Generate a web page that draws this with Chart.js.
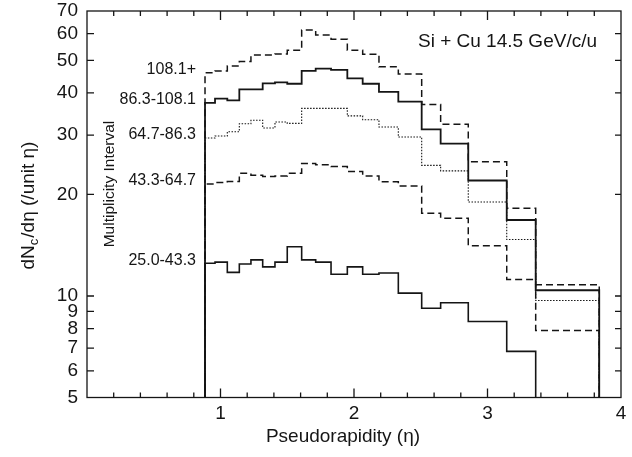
<!DOCTYPE html>
<html>
<head>
<meta charset="utf-8">
<script src="https://cdn.jsdelivr.net/npm/chart.js@4"></script>
<style>
  html, body { margin: 0; padding: 0; background: #fff; }
</style>
</head>
<body>
<canvas id="etaChart" width="632" height="457"></canvas>
<script>
// bin edges in pseudorapidity
var binEdges = [0.884, 0.959, 1.051, 1.141, 1.228, 1.316, 1.408, 1.500, 1.608, 1.713, 1.828,
                1.950, 2.065, 2.187, 2.332, 2.507, 2.649, 2.856, 3.144, 3.361, 3.837];

// dNc/deta per bin, one array per multiplicity interval
var mult108 = [45.9, 46.5, 48.1, 49.6, 51.8, 51.8, 52.2, 53.5, 61.5, 59.4, 57.7, 53.5, 52.1, 47.8, 45.5, 37.0, 32.3, 25.0, 18.2, 10.8];
var mult86  = [37.4, 38.5, 38.0, 41.0, 41.0, 42.7, 43.0, 42.6, 46.5, 47.2, 46.8, 44.2, 42.6, 40.3, 37.7, 31.2, 28.3, 22.0, 16.8, 10.4];
var mult64  = [29.4, 29.8, 30.7, 32.4, 33.2, 31.5, 32.8, 32.5, 36.0, 36.0, 36.0, 34.2, 33.3, 31.7, 29.6, 24.4, 23.5, 19.0, 14.7, 9.7];
var mult43  = [21.5, 21.7, 21.85, 23.1, 22.8, 22.6, 22.7, 23.1, 24.7, 24.5, 24.2, 23.4, 22.7, 21.8, 21.2, 17.6, 17.0, 14.1, 11.2, 7.9];
var mult25  = [12.5, 12.6, 11.75, 12.44, 12.8, 12.2, 12.6, 14.0, 12.8, 12.6, 11.6, 12.2, 11.6, 11.7, 10.2, 9.2, 9.55, 8.4, 6.85];

var seriesLabels = ['108.1+', '86.3-108.1', '64.7-86.3', '43.3-64.7', '25.0-43.3'];
var yTickValues = [5, 6, 7, 8, 9, 10, 20, 30, 40, 50, 60, 70];
var xTickValues = [1, 2, 3, 4];

var FONT = "'Liberation Sans', Arial, sans-serif";
var INK = '#151515';

// histogram outline: rises from below the axis, steps through bins, drops back
function histPoints(vals) {
  var pts = [{x: binEdges[0], y: 1}];
  for (var i = 0; i < vals.length; i++) pts.push({x: binEdges[i], y: vals[i]});
  var n = vals.length;
  pts.push({x: binEdges[n], y: vals[n - 1]});
  pts.push({x: binEdges[n], y: 1});
  return pts;
}

function ds(vals, width, dash) {
  return {
    data: histPoints(vals),
    stepped: true,
    borderColor: INK,
    borderWidth: width,
    borderDash: dash,
    pointRadius: 0,
    fill: false
  };
}

var frameAndText = {
  id: 'frameAndText',
  afterDraw: function(chart) {
    var ctx = chart.ctx, a = chart.chartArea;
    var xs = chart.scales.x, ys = chart.scales.y;
    ctx.save();
    ctx.strokeStyle = INK;
    ctx.lineWidth = 1.3;
    ctx.strokeRect(a.left, a.top, a.right - a.left, a.bottom - a.top);

    // inward ticks
    ctx.beginPath();
    for (var k = 1; k < 20; k++) {
      var v = k * 0.2, px = xs.getPixelForValue(v);
      var len = (k % 5 === 0) ? 9 : 5;
      ctx.moveTo(px, a.bottom); ctx.lineTo(px, a.bottom - len);
      ctx.moveTo(px, a.top); ctx.lineTo(px, a.top + len);
    }
    yTickValues.forEach(function(t) {
      if (t === 5 || t === 70) return;
      var py = ys.getPixelForValue(t);
      ctx.moveTo(a.left, py); ctx.lineTo(a.left + 7, py);
      ctx.moveTo(a.right, py); ctx.lineTo(a.right - 6, py);
    });
    ctx.stroke();

    ctx.fillStyle = INK;
    // x title
    ctx.font = '19px ' + FONT;
    ctx.textAlign = 'center';
    ctx.textBaseline = 'middle';
    ctx.fillText('Pseudorapidity (\u03b7)', 343, 437);

    // y title with subscript
    ctx.save();
    ctx.translate(34, 206);
    ctx.rotate(-Math.PI / 2);
    ctx.textAlign = 'left';
    ctx.textBaseline = 'alphabetic';
    var big = '19px ' + FONT, small = '13px ' + FONT;
    ctx.font = big;
    var w1 = ctx.measureText('dN').width;
    var w3 = ctx.measureText('/d\u03b7 (/unit \u03b7)').width;
    ctx.font = small;
    var w2 = ctx.measureText('c').width;
    var x0 = -(w1 + w2 + w3) / 2;
    ctx.font = big;
    ctx.fillText('dN', x0, 0);
    ctx.font = small;
    ctx.fillText('c', x0 + w1, 4);
    ctx.font = big;
    ctx.fillText('/d\u03b7 (/unit \u03b7)', x0 + w1 + w2 + 1, 0);
    ctx.restore();

    // multiplicity interval caption
    ctx.save();
    ctx.translate(114, 184);
    ctx.rotate(-Math.PI / 2);
    ctx.font = '15.5px ' + FONT;
    ctx.textAlign = 'center';
    ctx.textBaseline = 'alphabetic';
    ctx.fillText('Multiplicity Interval', 0, 0);
    ctx.restore();

    // series labels next to the first bin
    ctx.font = '16px ' + FONT;
    ctx.textAlign = 'right';
    ctx.textBaseline = 'middle';
    var firsts = [mult108[0], mult86[0], mult64[0], mult43[0], mult25[0]];
    seriesLabels.forEach(function(lab, i) {
      ctx.fillText(lab, 196, ys.getPixelForValue(firsts[i]) - 3);
    });

    ctx.font = '19px ' + FONT;
    ctx.textAlign = 'left';
    ctx.fillText('Si + Cu 14.5 GeV/c/u', 418, 42);
    ctx.restore();
  }
};

new Chart(document.getElementById('etaChart').getContext('2d'), {
  type: 'line',
  data: {
    datasets: [
      ds(mult108, 1.5, [7, 4]),
      ds(mult86, 1.8, []),
      ds(mult64, 1.1, [1.5, 1.5]),
      ds(mult43, 1.5, [7, 4]),
      ds(mult25, 1.6, [])
    ]
  },
  options: {
    responsive: false,
    animation: false,
    devicePixelRatio: 1,
    layout: { padding: { top: 11, right: 11, left: 0, bottom: 0 } },
    plugins: { legend: { display: false }, tooltip: { enabled: false } },
    scales: {
      x: {
        type: 'linear',
        min: 0,
        max: 4,
        afterFit: function(s) { s.height = 59.5; s.paddingLeft = 0; s.paddingRight = 0; },
        afterBuildTicks: function(s) { s.ticks = xTickValues.map(function(v) { return {value: v}; }); },
        ticks: { color: INK, font: { family: FONT, size: 19 }, padding: 5, maxRotation: 0 },
        grid: { display: false, drawTicks: false },
        border: { display: false }
      },
      y: {
        type: 'logarithmic',
        min: 5,
        max: 70,
        afterFit: function(s) { s.width = 87; s.paddingTop = 0; s.paddingBottom = 0; },
        afterBuildTicks: function(s) { s.ticks = yTickValues.map(function(v) { return {value: v}; }); },
        ticks: {
          autoSkip: false,
          color: INK,
          font: { family: FONT, size: 19 },
          padding: 9,
          callback: function(v) { return String(v); }
        },
        grid: { display: false, drawTicks: false },
        border: { display: false }
      }
    }
  },
  plugins: [frameAndText]
});
</script>
</body>
</html>
